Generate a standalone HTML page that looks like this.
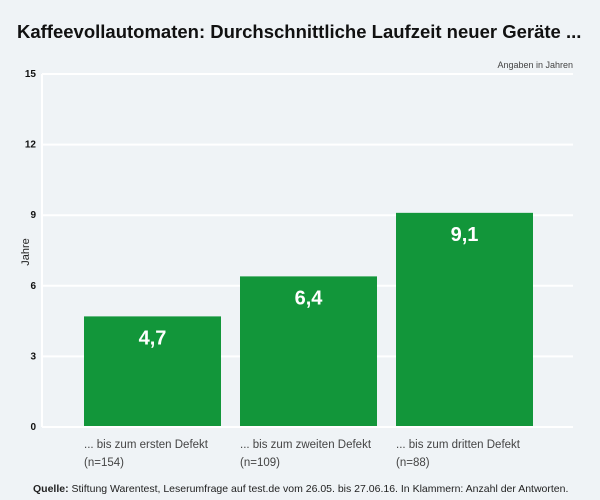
<!DOCTYPE html>
<html><head><meta charset="utf-8"><style>
body{margin:0;width:600px;height:500px;background:#eff3f6;font-family:"Liberation Sans",sans-serif;overflow:hidden}
svg{display:block}
</style></head><body>
<svg width="600" height="500">
<rect width="600" height="500" fill="#eff3f6"/>
<text x="17" y="38" font-size="18.5" font-weight="bold" fill="#111">Kaffeevollautomaten: Durchschnittliche Laufzeit neuer Geräte ...</text>
<text x="573" y="68" font-size="9" fill="#444" text-anchor="end">Angaben in Jahren</text>
<text transform="translate(29,252) rotate(-90)" font-size="11" fill="#222" text-anchor="middle">Jahre</text>
<g id="grid"></g><g id="bars"></g>
<text x="33" y="492" font-size="10.5" fill="#222"><tspan font-weight="bold">Quelle:</tspan> Stiftung Warentest, Leserumfrage auf test.de vom 26.05. bis 27.06.16. In Klammern: Anzahl der Antworten.</text>
</svg>
<script>
const ticks=[0,3,6,9,12,15];
const tickLabels=["0","3","6","9","12","15"];
const categories=["... bis zum ersten Defekt","... bis zum zweiten Defekt","... bis zum dritten Defekt"];
const counts=["(n=154)","(n=109)","(n=88)"];
const values=[4.7,6.4,9.1];
const valueLabels=["4,7","6,4","9,1"];
const NS="http://www.w3.org/2000/svg";
const y0=427,y1=74,maxV=15;
const y=v=>y0-(y0-y1)*v/maxV;
const bx=i=>84+i*156;
const bw=137;
function mk(t,a,p){const e=document.createElementNS(NS,t);for(const k in a)e.setAttribute(k,a[k]);p.appendChild(e);return e;}
const g=document.getElementById('grid'),b=document.getElementById('bars');
ticks.forEach((t,i)=>{
 const l=mk('line',{x1:42,x2:573,y1:y(t),y2:y(t),stroke:'#fff','stroke-width':2},g);
 
 
 const tx=mk('text',{x:36,y:y(t)+3,'font-size':10,'font-weight':'bold',fill:'#111','text-anchor':'end'},g);
 tx.textContent=tickLabels[i];
 
 
});
mk('line',{x1:42,x2:42,y1:y1,y2:y0,stroke:'#fff','stroke-width':2},g);
values.forEach((v,i)=>{
 const r=mk('rect',{x:bx(i),y:y(v),width:bw,height:y0-1-y(v),fill:'#12963a'},b);
 
 
 const t=mk('text',{x:bx(i)+bw/2,y:y(v)+28,'font-size':20,'font-weight':'bold',fill:'#fff','text-anchor':'middle'},b);
 t.textContent=valueLabels[i];
 
 
 const c=mk('text',{x:bx(i),y:448,'font-size':11.5,fill:'#444'},b);
 c.textContent=categories[i];
 
 
 const n=mk('text',{x:bx(i),y:466,'font-size':11.5,fill:'#444'},b);
 n.textContent=counts[i];
 
 
});
</script>
</body></html>
